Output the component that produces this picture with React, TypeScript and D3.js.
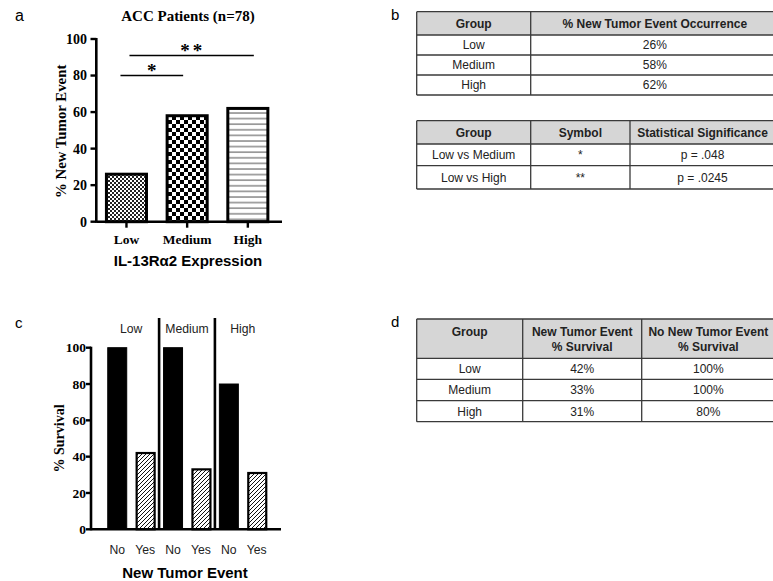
import React from 'react';
import * as d3 from 'd3';

const groups = ["Low", "Medium", "High"];
const newTumorPct = [26, 58, 62];
const yTicks = [0, 20, 40, 60, 80, 100];

// significance bars in panel a
const sigPairs = [
    { from: "Low", to: "Medium", symbol: "*", level: 80, dx1: -6, dx2: -4 },
    { from: "Low", to: "High", symbol: "**", level: 91, dx1: 3, dx2: 6 },
];

const eventLabels = ["No", "Yes"];
const survivalNo = [100, 100, 80];
const survivalYes = [42, 33, 31];

const tableB1Head = ["Group", "% New Tumor Event Occurrence"];
const tableB1Rows = [["Low", "26%"], ["Medium", "58%"], ["High", "62%"]];
const tableB2Head = ["Group", "Symbol", "Statistical Significance"];
const tableB2Rows = [["Low vs Medium", "*", "p = .048"], ["Low vs High", "**", "p = .0245"]];
const tableDHead = [["Group"], ["New Tumor Event", "% Survival"], ["No New Tumor Event", "% Survival"]];
const tableDRows = [["Low", "42%", "100%"], ["Medium", "33%", "100%"], ["High", "31%", "80%"]];

const SERIF = "'Liberation Serif', 'Times New Roman', serif";
const SANS = "'Liberation Sans', Arial, sans-serif";
const patterns = ["fineCheck", "check", "hlines"];

function Table(props) {
    const { cols, rows, head, rowH, headH, x0, y0, headLines } = props;
    const cw = cols.slice(1).map((c, i) => c - cols[i]);
    const ys = [y0, y0 + headH];
    rowH.forEach((h, i) => ys.push(ys[i + 1] + h));
    const right = cols[cols.length - 1];
    return (
        <g fontFamily={SANS} fill="#222">
            <rect x={x0} y={y0} width={right - x0} height={headH} fill="#d6d6d6" />
            {head.map((h, i) => {
                const cx = cols[i] + cw[i] / 2;
                const lines = Array.isArray(h) ? h : [h];
                return lines.map((t, j) => (
                    <text key={i + "-" + j} x={cx} y={y0 + headLines[j]} textAnchor="middle"
                        fontWeight="bold" fontSize={12} fill="#222">{t}</text>
                ));
            })}
            {rows.map((r, ri) => r.map((t, ci) => (
                <text key={ri + "-" + ci} x={cols[ci] + cw[ci] / 2} y={(ys[ri + 1] + ys[ri + 2]) / 2}
                    dy="0.36em" textAnchor="middle" fontSize={12} fill="#222">{t}</text>
            )))}
            {ys.map((y, i) => (
                <line key={"h" + i} x1={x0} x2={right} y1={y} y2={y} stroke="#3a3a3a" strokeWidth={1.3} />
            ))}
            {cols.slice(0, -1).map((c, i) => (
                <line key={"v" + i} x1={c} x2={c} y1={y0} y2={ys[ys.length - 1]} stroke="#3a3a3a" strokeWidth={1.3} />
            ))}
        </g>
    );
}

export default function App() {
    // panel a scales
    const xA = d3.scaleBand().domain(groups).range([96.3, 278]).paddingInner(0.34).paddingOuter(0.167);
    const yA = d3.scaleLinear().domain([0, 100]).range([221.7, 39]);
    const bwA = xA.bandwidth();

    // panel c scales
    const keys = groups.flatMap(g => eventLabels.map(e => g + "-" + e));
    const xC = d3.scaleBand().domain(keys).range([91, 283]).paddingInner(0.32).paddingOuter(0.6);
    const yC = d3.scaleLinear().domain([0, 100]).range([529.3, 347.7]);
    const bwC = xC.bandwidth();
    const survData = groups.flatMap((g, i) => [
        { key: g + "-No", label: "No", value: survivalNo[i] },
        { key: g + "-Yes", label: "Yes", value: survivalYes[i] },
    ]);

    return (
        <svg width={773} height={581} style={{ position: "absolute", left: 0, top: 0, background: "#fff" }}>
            <defs>
                <pattern id="fineCheck" width={4} height={4} patternUnits="userSpaceOnUse">
                    <rect width={4} height={4} fill="#fff" />
                    <rect width={2} height={2} fill="#222" />
                    <rect x={2} y={2} width={2} height={2} fill="#222" />
                </pattern>
                <pattern id="check" width={8} height={8} patternUnits="userSpaceOnUse">
                    <rect width={8} height={8} fill="#fff" />
                    <rect width={4} height={4} fill="#000" />
                    <rect x={4} y={4} width={4} height={4} fill="#000" />
                </pattern>
                <pattern id="hlines" width={6} height={5.6} patternUnits="userSpaceOnUse">
                    <rect width={6} height={5.6} fill="#fff" />
                    <line x1={0} x2={6} y1={1} y2={1} stroke="#777" strokeWidth={1.3} />
                </pattern>
                <pattern id="diag" width={4} height={4} patternUnits="userSpaceOnUse">
                    <rect width={4} height={4} fill="#fff" />
                    <path d="M-1,1 l2,-2 M0,4 l4,-4 M3,5 l2,-2" stroke="#111" strokeWidth={1} />
                </pattern>
            </defs>

            {/* ---------- panel a ---------- */}
            <text x={15} y={21} fontFamily={SANS} fontSize={16}>a</text>
            <text x={188} y={21} textAnchor="middle" fontFamily={SERIF} fontWeight="bold" fontSize={15}>ACC Patients (n=78)</text>
            {newTumorPct.map((v, i) => (
                <rect key={groups[i]} x={xA(groups[i])} y={yA(v)} width={bwA} height={yA(0) - yA(v)}
                    fill={`url(#${patterns[i]})`} stroke="#000" strokeWidth={3} />
            ))}
            <line x1={96.3} x2={282} y1={yA(0)} y2={yA(0)} stroke="#000" strokeWidth={2.6} />
            <line x1={96.3} x2={96.3} y1={yA(100) - 1} y2={yA(0) + 1} stroke="#000" strokeWidth={2.6} />
            {yTicks.map(t => (
                <g key={t}>
                    <line x1={90.5} x2={96.3} y1={yA(t)} y2={yA(t)} stroke="#000" strokeWidth={2.4} />
                    <text x={87} y={yA(t)} dy="0.35em" textAnchor="end" fontFamily={SERIF} fontWeight="bold" fontSize={14}>{t}</text>
                </g>
            ))}
            {groups.map(g => (
                <g key={g}>
                    <line x1={xA(g) + bwA / 2} x2={xA(g) + bwA / 2} y1={yA(0)} y2={yA(0) + 6} stroke="#000" strokeWidth={2.4} />
                    <text x={xA(g) + bwA / 2} y={244} textAnchor="middle" fontFamily={SERIF} fontWeight="bold" fontSize={13.5}>{g}</text>
                </g>
            ))}
            {sigPairs.map(s => {
                const x1 = xA(s.from) + bwA / 2 + s.dx1;
                const x2 = xA(s.to) + bwA / 2 + s.dx2;
                return (
                    <g key={s.symbol}>
                        <line x1={x1} x2={x2} y1={yA(s.level)} y2={yA(s.level)} stroke="#000" strokeWidth={1.6} />
                        <text x={(x1 + x2) / 2 + (s.symbol.length > 1 ? 1 : 0)} y={yA(s.level) + 1.5} textAnchor="middle"
                            fontFamily={SERIF} fontWeight="bold" fontSize={19} letterSpacing={s.symbol.length > 1 ? 3 : 0}>{s.symbol}</text>
                    </g>
                );
            })}
            <text transform={`translate(66,${(yA(0) + yA(100)) / 2 + 1}) rotate(-90)`} textAnchor="middle"
                fontFamily={SERIF} fontWeight="bold" fontSize={14.8}>% New Tumor Event</text>
            <text x={188} y={266} textAnchor="middle" fontFamily={SANS} fontWeight="bold" fontSize={15}>IL-13Rα2 Expression</text>

            {/* ---------- panel c ---------- */}
            <text x={15} y={328} fontFamily={SANS} fontSize={15}>c</text>
            {survData.map(d => (
                <rect key={d.key} x={xC(d.key) + (d.label === "Yes" ? 1 : 0)} y={yC(d.value)}
                    width={bwC - (d.label === "Yes" ? 1 : 0)} height={yC(0) - yC(d.value)}
                    fill={d.label === "No" ? "#000" : "url(#diag)"} stroke="#000" strokeWidth={d.label === "No" ? 1 : 2.2} />
            ))}
            {groups.slice(1).map(g => {
                const prev = xC(groups[groups.indexOf(g) - 1] + "-Yes") + bwC;
                const xd = (prev + xC(g + "-No")) / 2;
                return <line key={g} x1={xd} x2={xd} y1={318} y2={yC(0)} stroke="#000" strokeWidth={2.6} />;
            })}
            {groups.map(g => (
                <text key={g} x={(xC(g + "-No") + xC(g + "-Yes") + bwC) / 2} y={333} textAnchor="middle"
                    fontFamily={SANS} fontSize={12.2} fill="#222">{g}</text>
            ))}
            <line x1={91} x2={281} y1={yC(0)} y2={yC(0)} stroke="#000" strokeWidth={2.6} />
            <line x1={91} x2={91} y1={yC(100) - 1} y2={yC(0) + 1} stroke="#000" strokeWidth={2.6} />
            {yTicks.map(t => (
                <g key={t}>
                    <line x1={86} x2={91} y1={yC(t)} y2={yC(t)} stroke="#000" strokeWidth={2.4} />
                    <text x={86} y={yC(t)} dy="0.35em" textAnchor="end" fontFamily={SERIF} fontWeight="bold" fontSize={13.5}>{t}</text>
                </g>
            ))}
            {survData.map(d => (
                <text key={d.key} x={xC(d.key) + bwC / 2} y={554} textAnchor="middle" fontFamily={SANS} fontSize={12.2} fill="#222">{d.label}</text>
            ))}
            <text transform={`translate(64,${(yC(0) + yC(100)) / 2}) rotate(-90)`} textAnchor="middle"
                fontFamily={SERIF} fontWeight="bold" fontSize={14}>% Survival</text>
            <text x={185} y={578} textAnchor="middle" fontFamily={SANS} fontWeight="bold" fontSize={15}>New Tumor Event</text>

            {/* ---------- panel b ---------- */}
            <text x={391} y={20} fontFamily={SANS} fontSize={15}>b</text>
            <Table x0={416.7} y0={11.7} cols={[416.7, 530.7, 779]} head={tableB1Head} rows={tableB1Rows}
                headH={23.3} rowH={[20, 20, 20]} headLines={[16]} />
            <Table x0={416.7} y0={120.7} cols={[416.7, 530.7, 630, 775]} head={tableB2Head} rows={tableB2Rows}
                headH={23.3} rowH={[21.7, 23.3]} headLines={[16]} />

            {/* ---------- panel d ---------- */}
            <text x={391} y={327} fontFamily={SANS} fontSize={15}>d</text>
            <Table x0={416.7} y0={319} cols={[416.7, 522.7, 641.7, 775]} head={tableDHead} rows={tableDRows}
                headH={39.3} rowH={[21, 21.4, 21]} headLines={[17, 32]} />
        </svg>
    );
}
